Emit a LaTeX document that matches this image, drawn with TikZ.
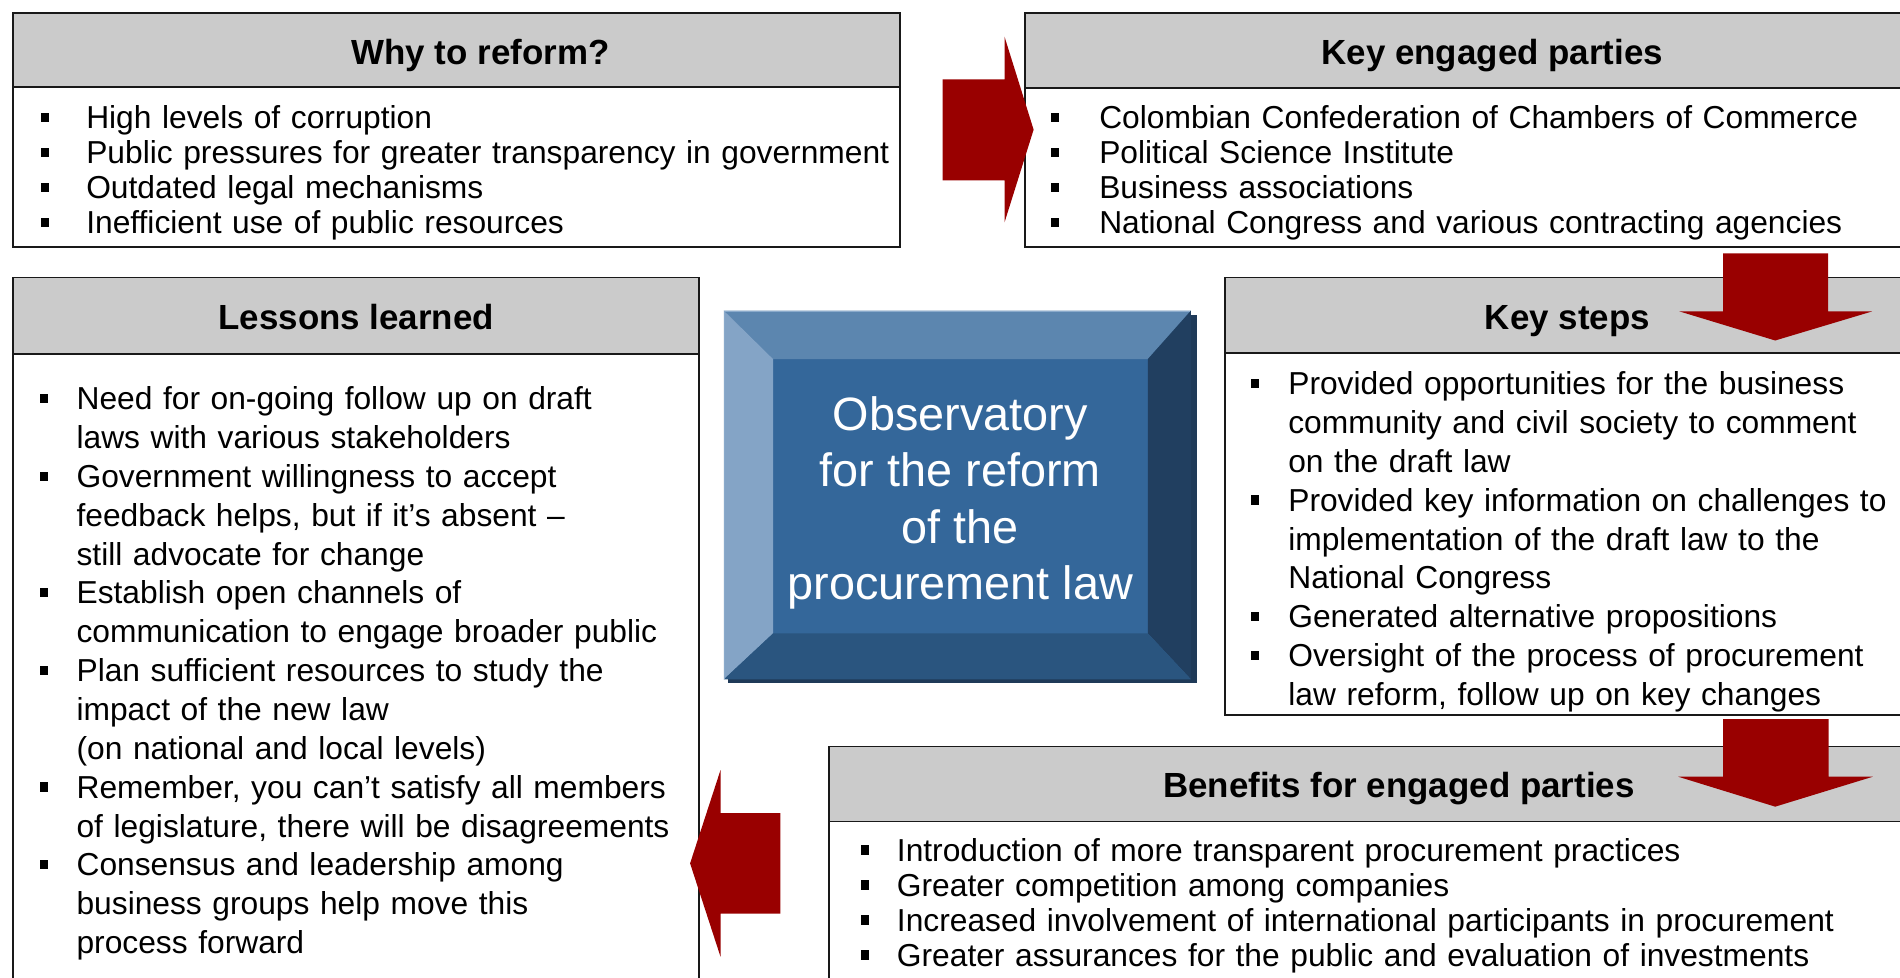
\documentclass[tikz,border=0pt]{standalone}
\usepackage{fontspec}
\setmainfont{Liberation Sans}
\definecolor{hdrgray}{HTML}{CBCBCB}
\definecolor{arrowred}{HTML}{990000}
\definecolor{bvtop}{HTML}{5C86AF}
\definecolor{bvleft}{HTML}{84A4C6}
\definecolor{bvright}{HTML}{213F60}
\definecolor{bvbottom}{HTML}{2A557F}
\definecolor{bvin}{HTML}{34679A}
\definecolor{bvshadow}{HTML}{1F3A58}
\definecolor{bvedge}{HTML}{8AAACB}
\newcommand\firststrut{\rule{0pt}{25pt}}
\newcommand\blt[1]{\leavevmode\llap{\rule[5.5pt]{6.6pt}{7.5pt}\hspace{#1}}}
\tikzset{
  boxline/.style={draw=black!90, line width=1.5pt},
  hdrbox/.style={boxline, fill=hdrgray},
  bodybox/.style={boxline, fill=white},
  hdrtext/.style={font=\fontsize{28.8}{34}\selectfont\bfseries, anchor=base, inner sep=0pt},
  listA/.style={anchor=north west, inner sep=0pt, text width=900pt, align=left, font=\fontsize{26.2}{28.9}\selectfont},
  listB/.style={listA, font=\fontsize{26.2}{32.05}\selectfont},
  redarrow/.style={fill=arrowred, draw=none},
}
\begin{document}
\begin{tikzpicture}[x=1pt,y=-1pt]
\fill[white] (0,0) rectangle (1568,806.3);
\useasboundingbox (0,0) rectangle (1568,806.3);

% Why to reform?
\draw[bodybox] (11,11) rectangle (743,203.5);
\draw[hdrbox] (11,11) rectangle (743,72);
\node[hdrtext] (why) at (396.5,53.3) {Why to reform?};
\node[listA] (whylist) at (71,81) {\firststrut\blt{31pt}High levels of corruption\\
\blt{31pt}Public pressures for greater transparency in government\\
\blt{31pt}Outdated legal mechanisms\\
\blt{31pt}Inefficient use of public resources};

% Key engaged parties
\draw[bodybox] (846,11) rectangle (1580,203.5);
\draw[hdrbox] (846,11) rectangle (1580,72.5);
\node[hdrtext] (parties) at (1231.5,53.3) {Key engaged parties};
\node[listA] (partylist) at (907,81) {\firststrut\blt{33pt}Colombian Confederation of Chambers of Commerce\\
\blt{33pt}Political Science Institute\\
\blt{33pt}Business associations\\
\blt{33pt}National Congress and various contracting agencies};

% Key steps
\draw[bodybox] (1011,229) rectangle (1580,590);
\draw[hdrbox] (1011,229) rectangle (1580,291);
\node[hdrtext] (steps) at (1293.5,272.3) {Key steps};
\node[listB] (steplist) at (1063,300.5) {\firststrut\blt{24pt}Provided opportunities for the business\\
community and civil society to comment\\
on the draft law\\
\blt{24pt}Provided key information on challenges to\\
implementation of the draft law to the\\
National Congress\\
\blt{24pt}Generated alternative propositions\\
\blt{24pt}Oversight of the process of procurement\\
law reform, follow up on key changes};

% Benefits for engaged parties
\draw[bodybox] (684,616) rectangle (1580,820);
\draw[hdrbox] (684,616) rectangle (1580,678);
\node[hdrtext] (benefits) at (1154.5,658.3) {Benefits for engaged parties};
\node[listA] (benlist) at (740,685.5) {\firststrut\blt{23pt}Introduction of more transparent procurement practices\\
\blt{23pt}Greater competition among companies\\
\blt{23pt}Increased involvement of international participants in procurement\\
\blt{23pt}Greater assurances for the public and evaluation of investments};

% Lessons learned
\draw[bodybox] (11,229) rectangle (577,820);
\draw[hdrbox] (11,229) rectangle (577,292);
\node[hdrtext] (lessons) at (294,272.3) {Lessons learned};
\node[listB] (lessonlist) at (63,313) {\firststrut\blt{24pt}Need for on-going follow up on draft\\
laws with various stakeholders\\
\blt{24pt}Government willingness to accept\\
feedback helps, but if it’s absent –\\
still advocate for change\\
\blt{24pt}Establish open channels of\\
communication to engage broader public\\
\blt{24pt}Plan sufficient resources to study the\\
impact of the new law\\
(on national and local levels)\\
\blt{24pt}Remember, you can’t satisfy all members\\
of legislature, there will be disagreements\\
\blt{24pt}Consensus and leadership among\\
business groups help move this\\
process forward};

% Central bevelled box
\fill[bvshadow] (601,260) rectangle (987.5,563.4);
\fill[bvin] (597.4,256.4) rectangle (982.8,560.6);
\fill[bvtop] (597.4,256.4) -- (982.8,256.4) -- (947.3,296.3) -- (638,296.3) -- cycle;
\fill[bvleft] (597.4,256.4) -- (638,296.3) -- (638,522.7) -- (597.4,560.6) -- cycle;
\fill[bvright] (982.8,256.4) -- (982.8,560.6) -- (947.3,522.7) -- (947.3,296.3) -- cycle;
\fill[bvbottom] (597.4,560.6) -- (638,522.7) -- (947.3,522.7) -- (982.8,560.6) -- cycle;
\draw[bvedge, line width=1pt] (597.9,560.1) -- (597.9,256.9) -- (982.3,256.9);
\node[anchor=north, inner sep=0pt, align=center, text=white, font=\fontsize{38.6}{46.7}\selectfont] (obs) at (792.5,324.8)
  {\rule{0pt}{30pt}Observatory\\for the reform\\of the\\procurement law};

% Block arrows
\fill[redarrow] (778,65.5) -- (829,65.5) -- (829,30.3) -- (853,107) -- (829,183.5) -- (829,148.8) -- (778,148.8) -- cycle;
\fill[redarrow] (1422,209) -- (1508.6,209) -- (1508.6,257) -- (1545,257) -- (1465,281) -- (1386,257) -- (1422,257) -- cycle;
\fill[redarrow] (1422,593.4) -- (1509,593.4) -- (1509,641) -- (1545.5,641) -- (1465,665.7) -- (1385,641) -- (1422,641) -- cycle;
\fill[redarrow] (644,671) -- (594.6,671) -- (594.6,635.5) -- (569.5,712.5) -- (594.6,789.5) -- (594.6,754) -- (644,754) -- cycle;
\end{tikzpicture}
\end{document}
